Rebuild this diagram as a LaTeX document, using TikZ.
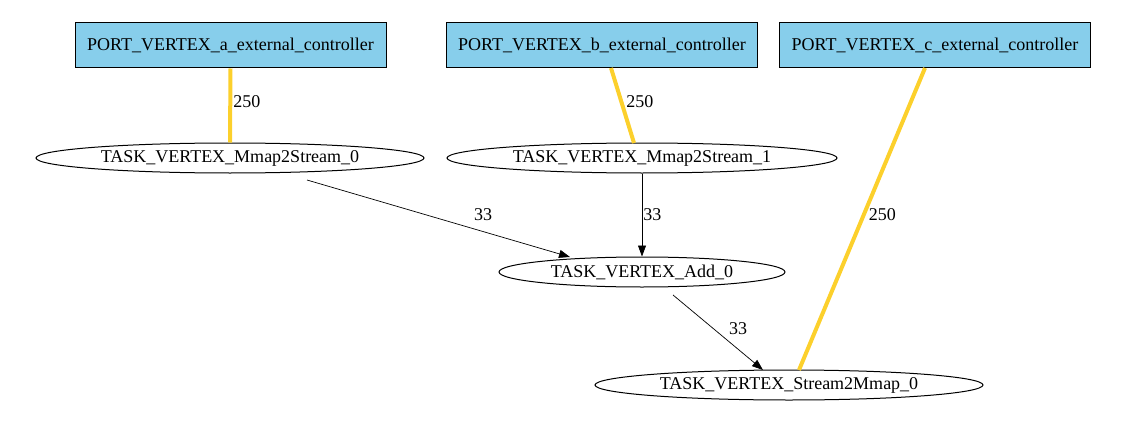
\documentclass[tikz,border=0pt]{standalone}
\usepackage{fontspec}
\setmainfont{Liberation Serif}
\usetikzlibrary{shapes.geometric,arrows.meta}
\definecolor{boxblue}{RGB}{135,206,235}
\definecolor{edgeyellow}{RGB}{252,208,44}
\begin{document}
\begin{tikzpicture}[x=1pt,y=-1pt,
  portbox/.style={draw,line width=1pt,fill=boxblue,minimum width=311pt,minimum height=45pt,inner sep=0pt,font=\fontsize{18}{20}\selectfont},
  taskell/.style={draw,line width=1pt,ellipse,minimum height=30pt,inner sep=0pt,font=\fontsize{18}{20}\selectfont},
  heavy/.style={draw=edgeyellow,line width=4pt},
  light/.style={draw=black,line width=0.7pt,-{Triangle[length=11pt,width=8pt]}},
  elabel/.style={font=\fontsize{18}{20}\selectfont,inner sep=1pt}]
\useasboundingbox (0,0) rectangle (1130,428);
\node[portbox] (pa) at (230.5,45.5) {PORT\_VERTEX\_a\_external\_controller};
\node[portbox] (pb) at (602,45.5) {PORT\_VERTEX\_b\_external\_controller};
\node[portbox] (pc) at (935,45.5) {PORT\_VERTEX\_c\_external\_controller};
\node[taskell,minimum width=388pt] (m0) at (230,158) {TASK\_VERTEX\_Mmap2Stream\_0};
\node[taskell,minimum width=390pt] (m1) at (642,158) {TASK\_VERTEX\_Mmap2Stream\_1};
\node[taskell,minimum width=286pt] (add) at (642,272) {TASK\_VERTEX\_Add\_0};
\node[taskell,minimum width=388pt] (s2m) at (789,385) {TASK\_VERTEX\_Stream2Mmap\_0};
\coordinate (pbs) at (611,68);
\coordinate (m1n) at (634,143);
\coordinate (pcs) at (925,68);
\coordinate (s2mn) at (799,370);
\draw[heavy] (pa.south) -- (m0.north) node[elabel,pos=0.45,right=0pt] {250};
\draw[heavy] (pbs) -- (m1n) node[elabel,pos=0.45,right=2pt] {250};
\draw[heavy] (pcs) -- (s2mn) node[elabel,pos=0.485,right=2pt] {250};
\coordinate (m0s) at (307,180);
\coordinate (adda) at (570,257);
\draw[light] (m0s) -- (adda);
\node[elabel] (l1) at (483,215) {33};
\draw[light] (m1.south) -- (add.north) node[elabel,midway,right=0pt] {33};
\coordinate (adds) at (673,295);
\coordinate (s2ma) at (763,370);
\draw[light] (adds) -- (s2ma);
\node[elabel] (l3) at (738,329) {33};
\end{tikzpicture}
\end{document}
